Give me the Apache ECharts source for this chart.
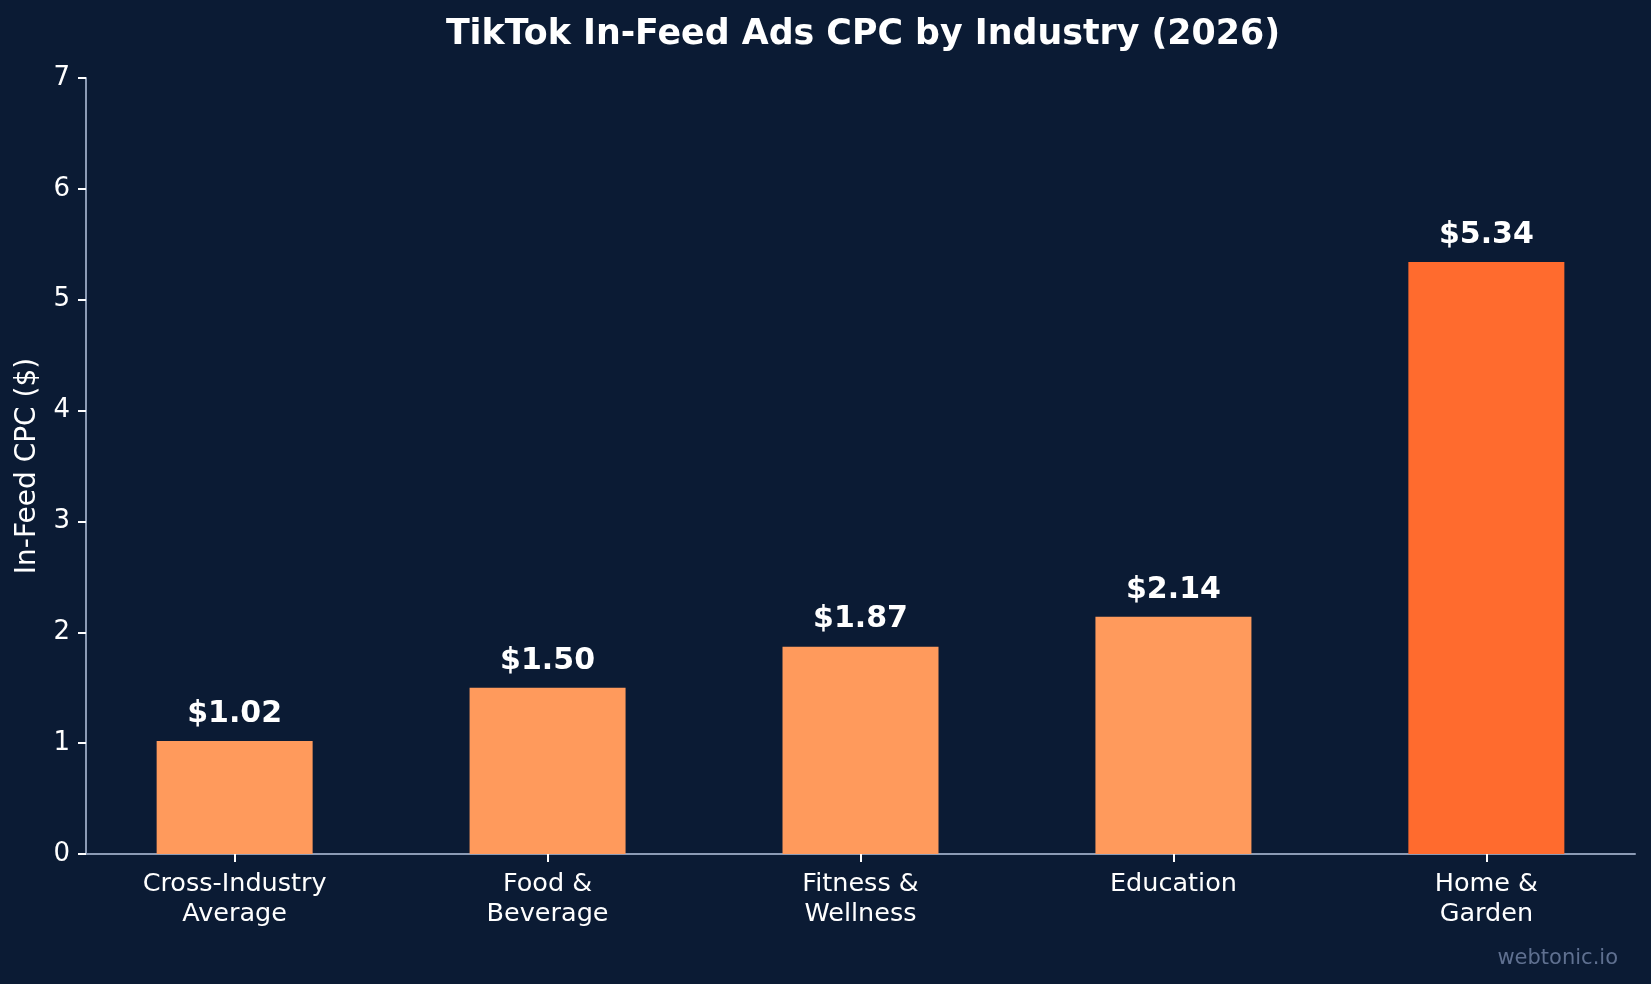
<!DOCTYPE html>
<html>
<head>
<meta charset="utf-8">
<script src="https://cdn.jsdelivr.net/npm/echarts@6/dist/echarts.min.js"></script>
<style>
  html, body { margin: 0; padding: 0; background: #0b1b34; }
  #chart { width: 1651px; height: 984px; }
</style>
</head>
<body>
<div id="chart"></div>
<script>
// 行业分类（x轴标签）
const industries = ['Cross-Industry\nAverage', 'Food &\nBeverage', 'Fitness &\nWellness', 'Education', 'Home &\nGarden']
// 每个行业的 In-Feed CPC ($)
const cpcValues = [1.02, 1.50, 1.87, 2.14, 5.34]
// y轴刻度
const yTicks = [0, 1, 2, 3, 4, 5, 6, 7]

const FONT = 'DejaVu Sans'
const chart = echarts.init(document.getElementById('chart'))

// 最后一个（最高）柱子用深一点的橙色
const barData = cpcValues.map((v, i) => ({
  value: [i, v],
  itemStyle: { color: i === cpcValues.length - 1 ? '#ff6b2e' : '#ff9a5c' }
}))

const option = {
  backgroundColor: '#0b1b34',
  animation: false,
  title: {
    text: 'TikTok In-Feed Ads CPC by Industry (2026)',
    left: 858,
    top: 12,
    textAlign: 'center',
    textStyle: { color: '#ffffff', fontFamily: FONT, fontWeight: 'bold', fontSize: 34.8 }
  },
  grid: {
    left: 86,
    right: 16,
    top: 78,
    bottom: 130
  },
  xAxis: {
    type: 'value',
    min: -0.475,
    max: 4.475,
    splitLine: { show: false },
    axisLine: { show: true, lineStyle: { color: '#8c9bb5', width: 2 } },
    axisTick: { show: true, length: 8, customValues: [0, 1, 2, 3, 4], lineStyle: { color: '#ffffff', width: 2 } },
    axisLabel: {
      customValues: [0, 1, 2, 3, 4],
      formatter: (v) => industries[Math.round(v)],
      color: '#ffffff',
      fontFamily: FONT,
      fontSize: 25.5,
      lineHeight: 30,
      margin: 15
    }
  },
  yAxis: {
    type: 'value',
    min: yTicks[0],
    max: yTicks[yTicks.length - 1],
    interval: 1,
    name: 'In-Feed CPC ($)',
    nameLocation: 'middle',
    nameGap: 44,
    nameTextStyle: { color: '#ffffff', fontFamily: FONT, fontSize: 28 },
    splitLine: { show: false },
    axisLine: { show: true, onZero: false, lineStyle: { color: '#8c9bb5', width: 2 } },
    axisTick: { show: true, length: 8, lineStyle: { color: '#ffffff', width: 2 } },
    axisLabel: { color: '#ffffff', fontFamily: FONT, fontSize: 26, margin: 16 }
  },
  series: [
    {
      type: 'bar',
      data: barData,
      barWidth: 156,
      label: {
        show: true,
        position: 'top',
        distance: 12,
        formatter: (p) => '$' + p.value[1].toFixed(2),
        color: '#ffffff',
        fontFamily: FONT,
        fontWeight: 'bold',
        fontSize: 30
      }
    }
  ],
  graphic: [
    {
      type: 'text',
      right: 33,
      bottom: 15,
      style: { text: 'webtonic.io', fill: '#5f7090', font: '21px "DejaVu Sans"' }
    }
  ]
}
chart.setOption(option)
</script>
</body>
</html>
